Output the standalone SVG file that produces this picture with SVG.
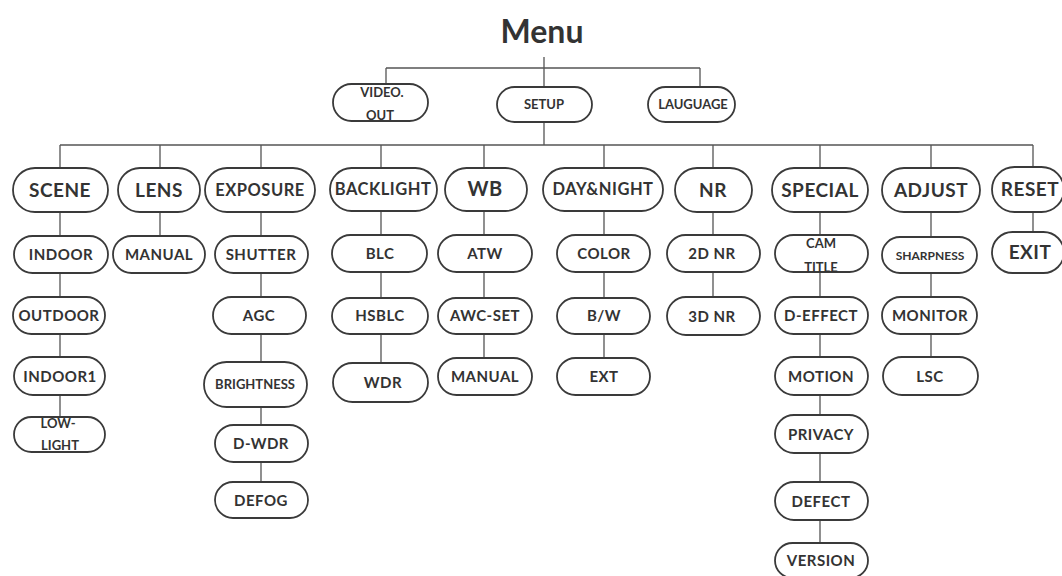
<svg xmlns="http://www.w3.org/2000/svg" width="1062" height="576" viewBox="0 0 1062 576">
<style>
.n{fill:#fff;stroke:#3a3a3a;stroke-width:1.8}
.c{fill:none;stroke:#555;stroke-width:1.3}
text{font-family:Lato,"Open Sans","Liberation Sans",sans-serif;font-weight:bold;fill:#333;text-anchor:middle;letter-spacing:0.5px}
.t1{font-size:19px}
.t1s{font-size:16.5px}
.t3{font-size:15px}
.ts{font-size:13px;letter-spacing:0}
.title{font-size:32px;letter-spacing:0}
</style>
<rect width="1062" height="576" fill="#fff"/>
<g id="connectors">
<path class="c" d="M544 57V88M386 68H700M386 68V84M700 68V87M544 122V145M60 145H1033"/>
<path class="c" d="M60 145V168M160 145V168M261 145V168M381 145V168M484 145V168M604 145V168M713 145V168M820 145V168M931 145V168M1033 145V167"/>
<path class="c" d="M60 212V417M160 212V236M261 212V482M381 211V363M484 211V358M604 211V358M713 212V297M820 212V543M931 212V357M1033 212V232"/>
</g>
<text class="title" x="542" y="43">Menu</text>
<g id="video-out"><rect class="n" x="333" y="84" width="95" height="37" rx="18.5"/><text class="ts" x="382" y="97">VIDEO.</text><text class="ts" x="380" y="120">OUT</text></g>
<g id="setup"><rect class="n" x="497" y="87" width="95" height="35" rx="17.5"/><text class="ts" x="544" y="109">SETUP</text></g>
<g id="lauguage"><rect class="n" x="648" y="87" width="87" height="35" rx="17.5"/><text class="ts" x="693" y="109">LAUGUAGE</text></g>

<g id="scene"><rect class="n" x="13" y="168" width="95" height="44" rx="22"/><text class="t1" x="60" y="197">SCENE</text></g>
<g id="indoor"><rect class="n" x="14" y="236" width="94" height="37" rx="18.5"/><text class="t3" x="61" y="260">INDOOR</text></g>
<g id="outdoor"><rect class="n" x="13" y="297" width="92" height="37" rx="18.5"/><text class="t3" x="59" y="321">OUTDOOR</text></g>
<g id="indoor1"><rect class="n" x="14" y="357" width="91" height="38" rx="19"/><text class="t3" x="60" y="382">INDOOR1</text></g>
<g id="low-light"><rect class="n" x="14" y="417" width="91" height="35" rx="17.5"/><text class="ts" x="58" y="428">LOW-</text><text class="ts" x="60" y="450">LIGHT</text></g>

<g id="lens"><rect class="n" x="118" y="168" width="82" height="44" rx="22"/><text class="t1" x="159" y="197">LENS</text></g>
<g id="lens-manual"><rect class="n" x="113" y="236" width="92" height="37" rx="18.5"/><text class="t3" x="159" y="260">MANUAL</text></g>

<g id="exposure"><rect class="n" x="205" y="168" width="110" height="44" rx="22"/><text class="t1s" x="260" y="196">EXPOSURE</text></g>
<g id="shutter"><rect class="n" x="215" y="236" width="93" height="37" rx="18.5"/><text class="t3" x="261" y="260">SHUTTER</text></g>
<g id="agc"><rect class="n" x="213" y="297" width="93" height="37" rx="18.5"/><text class="t3" x="259" y="321">AGC</text></g>
<g id="brightness"><rect class="n" x="204" y="362" width="103" height="45" rx="22.5"/><text class="ts" x="255" y="389">BRIGHTNESS</text></g>
<g id="d-wdr"><rect class="n" x="215" y="425" width="93" height="37" rx="18.5"/><text class="t3" x="261" y="449">D-WDR</text></g>
<g id="defog"><rect class="n" x="215" y="482" width="93" height="36" rx="18"/><text class="t3" x="261" y="506">DEFOG</text></g>

<g id="backlight"><rect class="n" x="330" y="168" width="107" height="43" rx="21.5"/><text class="t1s" x="383" y="195">BACKLIGHT</text></g>
<g id="blc"><rect class="n" x="332" y="235" width="95" height="37" rx="18.5"/><text class="t3" x="380" y="259">BLC</text></g>
<g id="hsblc"><rect class="n" x="332" y="298" width="96" height="36" rx="18"/><text class="t3" x="380" y="321">HSBLC</text></g>
<g id="wdr"><rect class="n" x="333" y="363" width="95" height="39" rx="19.5"/><text class="t3" x="383" y="388">WDR</text></g>

<g id="wb"><rect class="n" x="445" y="168" width="82" height="43" rx="21.5"/><text class="t1" x="485" y="196" style="font-size:20px">WB</text></g>
<g id="atw"><rect class="n" x="438" y="235" width="94" height="37" rx="18.5"/><text class="t3" x="485" y="259">ATW</text></g>
<g id="awc-set"><rect class="n" x="438" y="298" width="94" height="36" rx="18"/><text class="t3" x="485" y="321">AWC-SET</text></g>
<g id="wb-manual"><rect class="n" x="438" y="358" width="94" height="37" rx="18.5"/><text class="t3" x="485" y="382">MANUAL</text></g>

<g id="daynight"><rect class="n" x="543" y="168" width="120" height="43" rx="21.5"/><text class="t1s" x="603" y="195">DAY&amp;NIGHT</text></g>
<g id="color"><rect class="n" x="557" y="235" width="93" height="37" rx="18.5"/><text class="t3" x="604" y="259">COLOR</text></g>
<g id="bw"><rect class="n" x="557" y="298" width="93" height="36" rx="18"/><text class="t3" x="604" y="321">B/W</text></g>
<g id="ext"><rect class="n" x="557" y="358" width="93" height="37" rx="18.5"/><text class="t3" x="604" y="382">EXT</text></g>

<g id="nr"><rect class="n" x="675" y="168" width="77" height="44" rx="22"/><text class="t1" x="713" y="197">NR</text></g>
<g id="nr2d"><rect class="n" x="667" y="235" width="93" height="37" rx="18.5"/><text class="t3" x="712" y="259">2D NR</text></g>
<g id="nr3d"><rect class="n" x="667" y="297" width="93" height="38" rx="19"/><text class="t3" x="712" y="322">3D NR</text></g>

<g id="special"><rect class="n" x="772" y="168" width="96" height="44" rx="22"/><text class="t1" x="820" y="197">SPECIAL</text></g>
<g id="cam-title"><rect class="n" x="775" y="235" width="93" height="37" rx="18.5"/><text class="ts" x="821" y="248">CAM</text><text class="ts" x="821" y="272">TITLE</text></g>
<g id="d-effect"><rect class="n" x="775" y="297" width="93" height="37" rx="18.5"/><text class="t3" x="821" y="321">D-EFFECT</text></g>
<g id="motion"><rect class="n" x="775" y="357" width="93" height="38" rx="19"/><text class="t3" x="821" y="382">MOTION</text></g>
<g id="privacy"><rect class="n" x="775" y="415" width="93" height="38" rx="19"/><text class="t3" x="821" y="440">PRIVACY</text></g>
<g id="defect"><rect class="n" x="775" y="482" width="93" height="38" rx="19"/><text class="t3" x="821" y="507">DEFECT</text></g>
<g id="version"><rect class="n" x="775" y="543" width="93" height="35" rx="17.5"/><text class="t3" x="821" y="566">VERSION</text></g>

<g id="adjust"><rect class="n" x="882" y="168" width="98" height="44" rx="22"/><text class="t1" x="931" y="197">ADJUST</text></g>
<g id="sharpness"><rect class="n" x="882" y="237" width="95" height="36" rx="18"/><text class="ts" x="930" y="260" style="font-size:12px">SHARPNESS</text></g>
<g id="monitor"><rect class="n" x="882" y="297" width="95" height="37" rx="18.5"/><text class="t3" x="930" y="321">MONITOR</text></g>
<g id="lsc"><rect class="n" x="883" y="357" width="95" height="38" rx="19"/><text class="t3" x="930" y="382">LSC</text></g>

<g id="reset"><rect class="n" x="992" y="167" width="72" height="45" rx="22.5"/><text class="t1" x="1030" y="196">RESET</text></g>
<g id="exit"><rect class="n" x="992" y="232" width="72" height="41" rx="20.5"/><text class="t1" x="1030" y="259">EXIT</text></g>
</svg>
